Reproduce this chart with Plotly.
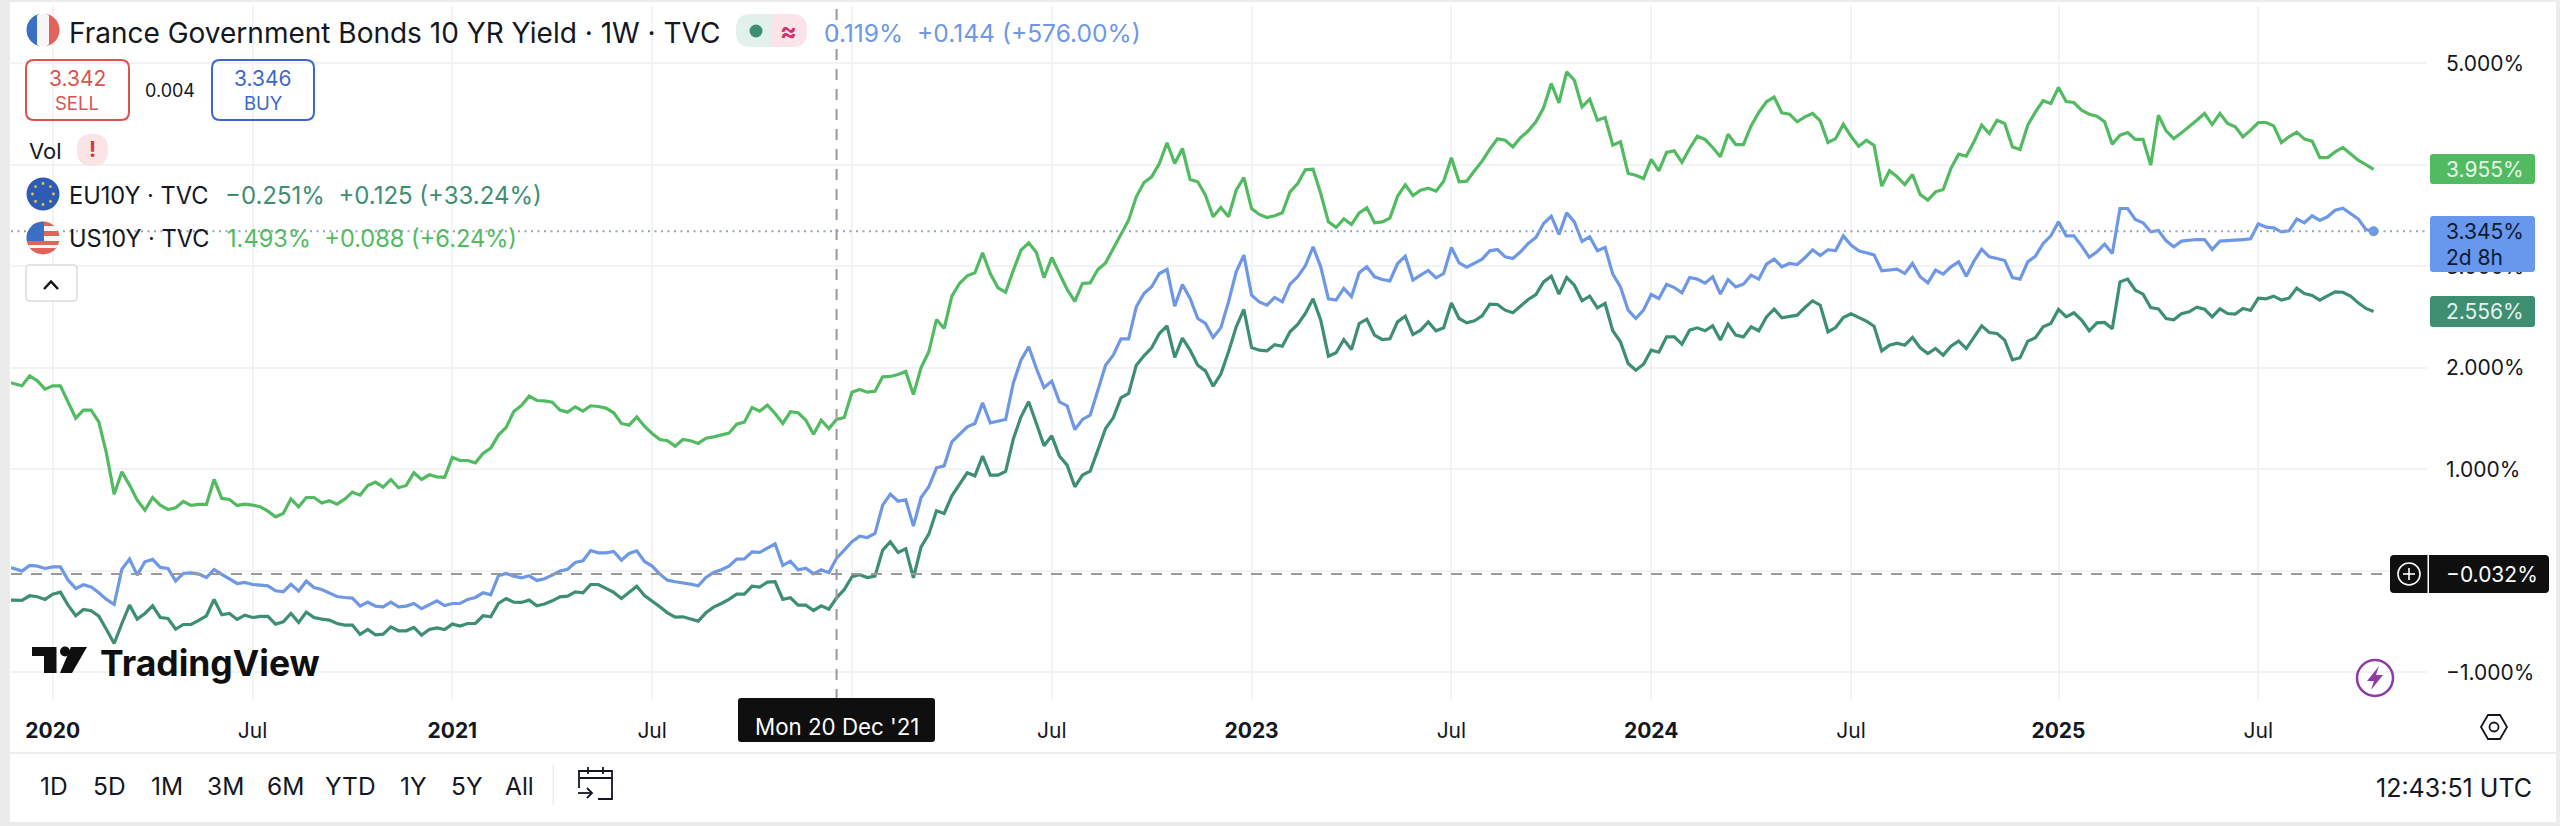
import math
import pandas as pd
import plotly.graph_objects as go

# ---------- data (weekly closes, %) ----------
weeks = pd.date_range("2019-11-25", periods=309, freq="W-MON")

us10y = [1.862,1.839,1.823,1.921,1.872,1.790,1.823,1.823,1.665,1.504,1.583,1.583,1.468,1.156,0.755,0.975,0.844,0.696,0.598,0.722,
0.647,0.604,0.621,0.683,0.644,0.654,0.654,0.900,0.713,0.703,0.644,0.657,0.647,0.631,0.588,0.532,0.565,0.709,0.631,0.722,
0.722,0.667,0.690,0.657,0.706,0.775,0.745,0.841,0.874,0.824,0.900,0.818,0.841,0.966,0.900,0.946,0.926,0.920,1.117,1.087,
1.087,1.064,1.156,1.209,1.337,1.412,1.570,
1.629,1.721,1.678,1.675,1.662,1.583,1.563,1.616,1.573,1.626,1.619,1.603,1.557,1.452,1.435,1.517,1.425,1.353,1.294,1.281,
1.228,1.294,1.281,1.255,1.307,1.320,1.337,1.356,1.445,1.465,1.609,1.573,1.632,1.550,1.452,1.567,1.557,1.484,1.346,1.484,
1.402,1.491,1.511,1.760,1.787,1.760,1.770,1.911,1.915,1.934,1.964,1.737,2.003,2.158,2.476,2.388,2.706,2.831,2.906,2.936,
3.133,2.929,2.788,2.745,2.962,
3.159,3.232,3.136,2.887,3.087,2.929,2.772,2.654,2.831,2.837,2.969,3.034,3.176,3.307,3.455,3.685,3.826,3.882,4.013,4.217,
4.013,4.161,3.856,3.833,3.701,3.488,3.580,3.488,3.750,3.875,3.570,3.511,3.481,3.498,3.527,3.734,3.816,3.951,3.957,3.718,
3.438,3.383,3.468,3.412,3.527,3.576,3.429,3.438,3.475,3.691,3.803,3.698,3.750,3.770,3.741,3.839,4.069,3.833,3.839,3.941,
4.036,4.154,4.256,4.243,4.177,4.269,
4.335,4.424,4.562,4.801,4.611,4.916,4.834,4.571,4.647,4.440,4.466,4.194,4.227,3.915,3.898,3.865,4.053,3.941,4.122,4.138,
4.023,4.161,4.282,4.250,4.171,4.079,4.302,4.200,4.200,4.384,4.516,4.621,4.667,4.512,4.499,4.424,4.473,4.506,4.433,4.220,
4.259,4.401,4.282,4.184,4.243,4.190,3.790,3.941,3.882,3.806,3.905,
3.708,3.652,3.734,3.757,3.964,4.105,4.085,4.227,4.391,4.309,4.440,4.407,4.177,4.151,
4.391,4.522,4.631,4.604,4.762,4.624,4.614,4.539,4.499,4.479,4.424,4.204,4.292,4.319,4.250,4.250,3.997,4.489,4.335,4.259,
4.315,4.374,4.440,4.506,4.397,4.506,4.407,4.374,4.276,4.342,4.417,4.417,4.384,4.220,4.276,4.322,4.253,4.233,4.072,4.072,
4.128,4.171,4.112,4.046,4.003,3.955]

fr10y = [0.039,0.023,-0.003,0.053,0.046,0.023,0.039,0.039,-0.092,-0.174,-0.138,-0.158,-0.217,-0.282,-0.332,0.016,0.115,-0.043,0.089,0.112,
0.033,0.023,-0.099,-0.026,-0.020,-0.033,-0.066,0.013,-0.036,-0.085,-0.125,-0.115,-0.135,-0.141,-0.148,-0.197,-0.207,-0.131,-0.200,-0.102,
-0.164,-0.184,-0.223,-0.253,-0.263,-0.269,-0.348,-0.309,-0.348,-0.355,-0.309,-0.355,-0.348,-0.322,-0.374,-0.332,-0.296,-0.342,-0.322,-0.322,
-0.282,-0.263,-0.217,-0.236,-0.049,-0.026,-0.053,
-0.069,-0.049,-0.095,-0.079,-0.043,-0.003,0.016,0.082,0.099,0.200,0.177,0.177,0.190,0.105,0.171,0.197,0.092,0.046,-0.033,-0.092,
-0.108,-0.118,-0.131,-0.148,-0.066,-0.016,0.010,0.046,0.115,0.118,0.187,0.181,0.223,0.266,0.053,0.095,0.010,0.026,-0.030,0.010,
-0.020,0.125,0.204,0.286,0.342,0.328,0.368,0.647,0.755,0.686,0.700,0.440,0.722,0.828,1.015,1.034,1.271,1.346,1.419,1.452,
1.655,1.458,1.475,1.491,1.850,
2.076,2.207,1.993,1.806,1.869,1.665,1.626,1.392,1.491,1.534,1.780,2.026,2.125,2.286,2.286,2.601,2.732,2.798,2.929,2.969,
2.608,2.821,2.683,2.486,2.437,2.299,2.394,2.650,2.946,3.110,2.716,2.650,2.617,2.693,2.650,2.824,2.897,3.005,3.192,2.995,
2.680,2.667,2.782,2.700,2.936,2.995,2.897,2.870,2.857,3.028,3.100,2.864,2.913,2.959,2.887,2.929,3.186,3.034,2.992,3.028,
3.071,3.153,3.166,3.094,3.077,3.143,
3.225,3.284,3.422,3.494,3.314,3.527,3.438,3.245,3.291,3.153,3.186,2.923,2.798,2.568,2.486,2.568,2.722,2.683,2.824,2.791,
2.739,2.890,2.874,2.834,2.897,2.726,2.870,2.798,2.824,2.913,2.874,3.021,3.071,2.995,3.028,3.018,3.084,3.163,3.107,3.163,
3.156,3.300,3.209,3.153,3.133,3.113,2.956,2.966,2.972,2.929,3.028,2.897,2.837,2.962,2.923,2.995,3.044,2.903,3.051,3.169,
3.094,3.077,3.057,2.890,2.874,
3.044,3.100,3.225,3.300,3.438,3.300,3.300,3.202,3.090,3.143,3.218,3.126,3.570,3.570,3.461,3.429,3.340,3.353,3.251,3.192,
3.248,3.258,3.264,3.264,3.166,3.248,3.251,3.254,3.264,3.271,3.419,3.386,3.379,3.340,3.350,3.465,3.429,3.498,3.452,3.488,
3.553,3.573,3.521,3.468,3.363,3.345]

eu10y = [-0.289,-0.292,-0.292,-0.246,-0.256,-0.282,-0.230,-0.210,-0.338,-0.443,-0.381,-0.394,-0.447,-0.578,-0.716,-0.519,-0.338,-0.476,-0.420,-0.345,
-0.460,-0.470,-0.575,-0.529,-0.529,-0.489,-0.443,-0.282,-0.433,-0.420,-0.479,-0.437,-0.460,-0.450,-0.450,-0.525,-0.502,-0.420,-0.509,-0.407,
-0.460,-0.476,-0.486,-0.519,-0.535,-0.535,-0.627,-0.578,-0.631,-0.624,-0.552,-0.591,-0.591,-0.558,-0.634,-0.578,-0.562,-0.578,-0.525,-0.545,
-0.519,-0.519,-0.443,-0.453,-0.322,-0.273,-0.309,
-0.312,-0.289,-0.345,-0.328,-0.296,-0.256,-0.250,-0.207,-0.217,-0.135,-0.135,-0.174,-0.213,-0.273,-0.207,-0.151,-0.243,-0.296,-0.355,-0.414,
-0.456,-0.453,-0.473,-0.496,-0.414,-0.358,-0.322,-0.282,-0.230,-0.230,-0.151,-0.161,-0.112,-0.108,-0.282,-0.266,-0.338,-0.338,-0.391,-0.345,
-0.378,-0.266,-0.184,-0.059,-0.039,-0.066,-0.053,0.204,0.286,0.181,0.217,-0.069,0.236,0.361,0.591,0.565,0.739,0.860,0.966,0.936,
1.130,0.943,0.943,0.980,1.300,
1.517,1.665,1.452,1.232,1.330,1.130,1.041,0.828,0.943,0.982,1.189,1.402,1.507,1.704,1.747,2.026,2.118,2.197,2.338,2.414,
2.102,2.292,2.174,2.026,1.970,1.819,1.938,2.158,2.404,2.575,2.200,2.174,2.167,2.227,2.213,2.355,2.427,2.535,2.680,2.470,
2.115,2.148,2.279,2.181,2.437,2.479,2.322,2.279,2.286,2.453,2.509,2.328,2.371,2.453,2.365,2.394,2.640,2.486,2.443,2.463,
2.512,2.627,2.624,2.568,2.542,2.608,
2.673,2.722,2.847,2.903,2.726,2.890,2.814,2.660,2.706,2.591,2.634,2.365,2.256,2.043,1.977,2.036,2.174,2.154,2.305,2.305,
2.233,2.371,2.394,2.365,2.414,2.273,2.430,2.322,2.305,2.404,2.365,2.502,2.578,2.493,2.509,2.519,2.594,2.660,2.617,2.355,
2.397,2.496,2.532,2.493,2.460,2.410,2.167,2.223,2.243,2.223,2.299,2.197,2.141,2.190,2.125,2.213,2.263,2.190,2.305,2.414,
2.348,2.338,2.273,2.079,2.099,
2.263,2.296,2.404,2.437,2.575,2.502,2.542,2.470,2.365,2.443,2.447,2.384,2.847,2.874,2.765,2.726,2.594,2.581,2.486,2.473,
2.532,2.552,2.598,2.578,2.502,2.581,2.535,2.529,2.585,2.565,2.686,2.680,2.706,2.667,2.686,2.785,2.732,2.713,2.667,2.709,
2.749,2.745,2.706,2.640,2.585,2.556]

x_tick_dates = ["2020-01-06","2020-07-06","2021-01-04","2021-07-05","2022-01-03","2022-07-04",
                "2023-01-02","2023-07-03","2024-01-01","2024-07-01","2025-01-06","2025-07-07"]
# the 2022, 4%, 0% labels sit behind opaque tags in the reference and cannot be seen
x_tick_text = ["<b>2020</b>","Jul","<b>2021</b>","Jul","","Jul",
               "<b>2023</b>","Jul","<b>2024</b>","Jul","<b>2025</b>","Jul"]
y_ticks = [-1, 0, 1, 2, 3, 4, 5]
y_tick_text = ["\u22121.000%", "", "1.000%", "2.000%", "3.000%", "", "5.000%"]
range_buttons = ["1D","5D","1M","3M","6M","YTD","1Y","5Y","All"]

# ---------- styling ----------
W, H = 2560, 826
L, R, T, B = 11, 2427, 6, 700
FONT = "Inter"
C_US, C_FR, C_EU = "#52BB62", "#6E98E5", "#3E8E72"
INK = "#131722"
GRID = "#F2F3F4"

def X(px): return (px - L) / (R - L)
def Y(py): return 1 - (py - T) / (B - T)
def P(pts, close=True):
    s = "M" + " L".join(f"{X(a):.5f},{Y(b):.5f}" for a, b in pts)
    return s + (" Z" if close else "")

shapes, notes = [], []

def poly(pts, fill=None, line=None, lw=0, close=True, layer="above"):
    shapes.append(dict(type="path", xref="paper", yref="paper", path=P(pts, close), layer=layer,
                       fillcolor=fill if fill else "rgba(0,0,0,0)",
                       line=dict(color=line if line else "rgba(0,0,0,0)", width=lw)))

def rect(x0, y0, x1, y1, fill, layer="above"):
    shapes.append(dict(type="rect", xref="paper", yref="paper", x0=X(x0), x1=X(x1), y0=Y(y0), y1=Y(y1),
                       fillcolor=fill, line=dict(width=0), layer=layer))

def rrect(x0, y0, x1, y1, r, fill=None, line=None, lw=0):
    q = (f"M{X(x0+r):.5f},{Y(y0):.5f} L{X(x1-r):.5f},{Y(y0):.5f} Q{X(x1):.5f},{Y(y0):.5f} {X(x1):.5f},{Y(y0+r):.5f} "
         f"L{X(x1):.5f},{Y(y1-r):.5f} Q{X(x1):.5f},{Y(y1):.5f} {X(x1-r):.5f},{Y(y1):.5f} "
         f"L{X(x0+r):.5f},{Y(y1):.5f} Q{X(x0):.5f},{Y(y1):.5f} {X(x0):.5f},{Y(y1-r):.5f} "
         f"L{X(x0):.5f},{Y(y0+r):.5f} Q{X(x0):.5f},{Y(y0):.5f} {X(x0+r):.5f},{Y(y0):.5f} Z")
    shapes.append(dict(type="path", xref="paper", yref="paper", path=q, layer="above",
                       fillcolor=fill if fill else "rgba(0,0,0,0)",
                       line=dict(color=line if line else "rgba(0,0,0,0)", width=lw)))

def circle(cx, cy, r, fill=None, line=None, lw=0):
    shapes.append(dict(type="circle", xref="paper", yref="paper", x0=X(cx-r), x1=X(cx+r), y0=Y(cy+r), y1=Y(cy-r),
                       fillcolor=fill if fill else "rgba(0,0,0,0)",
                       line=dict(color=line if line else "rgba(0,0,0,0)", width=lw), layer="above"))

def disc_band(cx, cy, r, x0, x1, y0, y1, fill):
    # region of a disc inside a box, for the round flag icons
    left, right = [], []
    n = 14
    for k in range(n + 1):
        y = max(y0, cy - r) + (min(y1, cy + r) - max(y0, cy - r)) * k / n
        h = math.sqrt(max(r*r - (y-cy)**2, 0))
        a, b = max(x0, cx-h), min(x1, cx+h)
        if b < a: a = b = (a + b) / 2
        left.append((a, y)); right.append((b, y))
    poly(left + right[::-1], fill=fill)

def text(x, y, s, size=21, color=INK, anchor="left"):
    notes.append(dict(xref="paper", yref="paper", x=X(x), y=Y(y), text=s, showarrow=False,
                      xanchor=anchor, yanchor="middle", borderpad=0,
                      font=dict(family=FONT, size=size, color=color)))

# page frame
for box in [(0, 0, 10, H), (0, 0, W, 2), (0, 822, W, H), (2556, 0, W, H)]:
    rect(*box, "#ECECEC")
rect(10, 752, W, 754, "#EDEDED")

# reference lines
shapes.append(dict(type="line", xref="paper", yref="y", x0=0, x1=1, y0=fr10y[-1], y1=fr10y[-1], layer="above",
                   line=dict(color="#8FA3BF", width=2, dash="2px,4.5px")))
shapes.append(dict(type="line", xref="paper", yref="y", x0=0, x1=X(2390), y0=-0.032, y1=-0.032, layer="above",
                   line=dict(color="#9A9A9A", width=2, dash="11px,9px")))
shapes.append(dict(type="line", xref="x", yref="paper", x0="2021-12-20", x1="2021-12-20", y0=0, y1=1, layer="above",
                   line=dict(color="#9A9A9A", width=2, dash="11px,9px")))

# price labels
rrect(2430, 154, 2535, 184, 3, fill=C_US)
text(2445, 169, "3.955%", 21, "#E9F7EB")
rrect(2430, 216, 2535, 272, 3, fill="#6897EE")
text(2445, 232, "3.345%", 21, "#0E1B33")
text(2445, 257, "2d 8h", 21, "#0E1B33")
rrect(2430, 296, 2535, 327, 3, fill=C_EU)
text(2445, 311.5, "2.556%", 21, "#E4F3EE")
rrect(2390, 555, 2549, 593, 4, fill="#0F0F0F")
rect(2427.5, 555, 2429, 593, "#FFFFFF")
circle(2409, 574, 11, line="#FFFFFF", lw=1.6)
poly([(2403, 574), (2415, 574)], line="#FFFFFF", lw=1.6, close=False)
poly([(2409, 568), (2409, 580)], line="#FFFFFF", lw=1.6, close=False)
text(2445, 574, "\u22120.032%", 21, "#FFFFFF")

# crosshair date
rrect(738, 698, 935, 742, 3, fill="#0F0F0F")
text(836.5, 727, "Mon 20 Dec '21", 22.3, "#FFFFFF", "center")

# header row
disc_band(43, 30, 16.5, 26, 37, 13, 47, "#3A6FC4")
disc_band(43, 30, 16.5, 37, 49, 13, 47, "#F7F7F7")
disc_band(43, 30, 16.5, 49, 60, 13, 47, "#E2635A")
text(68, 33, "France Government Bonds 10 YR Yield \u00b7 1W \u00b7 TVC", 28)
rrect(736, 14, 807, 47, 15, fill="#FBE4E9")
rrect(736, 14, 790, 47, 15, fill="#E3F1EC")
rect(771, 14, 791, 47, "#FBE4E9")
circle(756, 31, 6.5, fill=C_EU)
text(788, 31, "<b>\u2248</b>", 25, "#D6336C", "center")
text(823, 33, "0.119%  +0.144 (+576.00%)", 24.6, C_FR)

# sell / buy
rrect(26, 60, 129, 120, 8, line="#D9534F", lw=2)
text(77, 79, "3.342", 21, "#D9534F", "center")
text(77, 103, "SELL", 18.5, "#D9534F", "center")
text(170, 90, "0.004", 18, INK, "center")
rrect(212, 60, 314, 120, 8, line="#3D68C8", lw=2)
text(263, 79, "3.346", 21, "#3D68C8", "center")
text(263, 103, "BUY", 18.5, "#3D68C8", "center")

# vol row
text(28, 151, "Vol", 22)
rrect(77, 134, 108, 166, 15, fill="#FBE4E6")
text(92, 150, "<b>!</b>", 21, "#D9363E", "center")

# EU row
circle(43, 194, 16.5, fill="#2F5CB3")
for k in range(8):
    a = k * math.pi / 4
    circle(43 + 10.5 * math.cos(a), 194 + 10.5 * math.sin(a), 1.4, fill="#E8C84A")
text(68, 195, "EU10Y \u00b7 TVC", 23.6)
text(224, 195, "\u22120.251%  +0.125 (+33.24%)", 24, C_EU)

# US row
disc_band(43, 238, 16.5, 26, 60, 221, 255, "#F7F7F7")
disc_band(43, 238, 16.5, 26, 60, 221, 226, "#E2635A")
disc_band(43, 238, 16.5, 26, 60, 231, 236, "#E2635A")
disc_band(43, 238, 16.5, 26, 60, 241, 255, "#E2635A")
disc_band(43, 238, 16.5, 26, 60, 245, 248, "#F7F7F7")
disc_band(43, 238, 16.5, 26, 44, 221, 241, "#3A6FC4")
text(68, 238, "US10Y \u00b7 TVC", 23.6)
text(226, 238, "1.493%  +0.088 (+6.24%)", 23.6, C_US)

# collapse button
rrect(26, 265, 77, 301, 4, fill="#FFFFFF", line="#DADCE0", lw=1.5)
poly([(44, 289), (51, 281.5), (58, 289)], line="#0F0F0F", lw=2.5, close=False)

# logo
poly([(32, 647), (56.5, 647), (56.5, 673), (44, 673), (44, 656), (32, 656)], fill="#0F0F0F")
circle(65, 651.5, 5, fill="#0F0F0F")
poly([(71, 647), (87, 647), (72, 673), (60, 673)], fill="#0F0F0F")
text(99, 663, "<b>TradingView</b>", 35.5, "#0F0F0F")

# bottom bar
for label, cx in zip(range_buttons, [54, 109, 167, 225.5, 285, 350, 413.6, 467, 519.5]):
    text(cx, 786, label, 24.5, INK, "center")
rect(552.5, 765, 554, 805, "#EDEDED")
poly([(579, 788), (579, 771), (612, 771), (612, 799), (598, 799)], line=INK, lw=1.8, close=False)
poly([(579, 778), (612, 778)], line=INK, lw=1.8, close=False)
poly([(588, 767), (588, 774)], line=INK, lw=1.8, close=False)
poly([(603, 767), (603, 774)], line=INK, lw=1.8, close=False)
poly([(578, 793), (592, 793)], line=INK, lw=1.8, close=False)
poly([(587, 788), (592, 793), (587, 798)], line=INK, lw=1.8, close=False)
text(2375, 788, "12:43:51 UTC", 25, INK, "left")

# small icons, lower right
circle(2375, 678, 18, line="#8E3BA6", lw=2.5)
poly([(2379, 666), (2367, 681), (2374, 681), (2371, 690), (2383, 675), (2376, 675)], fill="#8E3BA6")
poly([(2481, 727), (2488, 715), (2500, 715), (2507, 727), (2500, 739), (2488, 739)], line=INK, lw=1.8)
circle(2494, 727, 4.5, line=INK, lw=1.8)

# ---------- figure ----------
fig = go.Figure()
for name, vals, col in [("US10Y", us10y, C_US), ("EU10Y", eu10y, C_EU), ("France 10Y", fr10y, C_FR)]:
    fig.add_trace(go.Scatter(x=weeks, y=vals, mode="lines", name=name,
                             line=dict(color=col, width=3.2), hoverinfo="skip"))
fig.add_trace(go.Scatter(x=[weeks[-1]], y=[fr10y[-1]], mode="markers", showlegend=False,
                         marker=dict(color=C_FR, size=10), hoverinfo="skip"))

fig.update_layout(
    width=W, height=H, autosize=False,
    margin=dict(l=L, r=W - R, t=T, b=H - B),
    paper_bgcolor="#FFFFFF", plot_bgcolor="#FFFFFF",
    showlegend=False,
    font=dict(family=FONT, size=21, color=INK),
    shapes=shapes, annotations=notes,
    xaxis=dict(type="date", range=["2019-11-29 00:29", "2025-12-07 15:36"],
               tickmode="array", tickvals=x_tick_dates, ticktext=x_tick_text,
               showgrid=True, gridcolor=GRID, gridwidth=1.5, zeroline=False,
               showline=False, ticks="", ticklabelstandoff=16,
               tickfont=dict(family=FONT, size=21, color=INK)),
    yaxis=dict(side="right", range=[-1.273, 5.565],
               tickmode="array", tickvals=y_ticks, ticktext=y_tick_text,
               showgrid=True, gridcolor=GRID, gridwidth=1.5, zeroline=False,
               showline=False, ticks="", ticklabelstandoff=18,
               tickfont=dict(family=FONT, size=21, color=INK)),
)

fig.write_html("out.html", config={"displayModeBar": False},
               post_script="document.body.style.margin='0';document.body.style.overflow='hidden';")
